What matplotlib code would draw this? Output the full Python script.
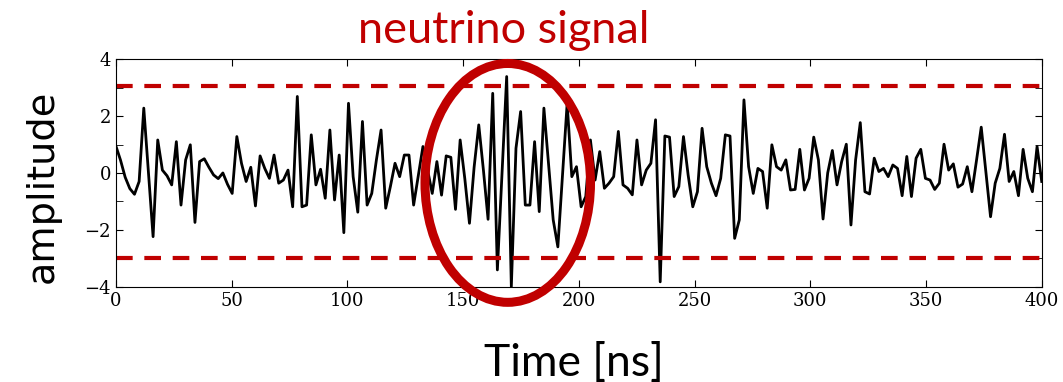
import numpy as np
import matplotlib
matplotlib.use("Agg")
import matplotlib.pyplot as plt
from matplotlib.patches import Ellipse
from matplotlib.ticker import MultipleLocator

# amplitude samples (one every ~2 ns)
amplitude = [
    0.95, 0.45, -0.15, -0.55, -0.75, -0.3, 2.28, 0.0, -2.24, 1.16,
    0.1, -0.1, -0.42, 1.1, -1.13, 0.46, 0.99, -1.74, 0.4, 0.5,
    0.2, -0.07, -0.2, 0.0, -0.4, -0.72, 1.28, 0.34, -0.3, 0.2,
    -1.16, 0.6, 0.16, -0.19, 0.63, -0.36, -0.25, 0.1, -1.19, 2.69,
    -1.19, -1.13, 1.34, -0.42, 0.13, -0.89, 1.51, -0.95, 0.63, -2.1,
    2.45, -0.13, -1.38, 1.81, -1.13, -0.72, 0.46, 1.51, -1.24, -0.48,
    0.34, -0.13, 0.63, 0.63,
    -1.13, -0.1, 0.93, 0.1, -0.72, 0.4, -0.78, 0.6, 0.55, -1.28,
    1.16, -0.2, -1.77, 0.2, 1.69, 0.1, -1.63, 2.8, -3.41, 0.0,
    3.39, -4.0, 0.87, 2.16, -1.13, -1.13, 1.1, -1.36, 2.28, 0.3,
    -1.65, -2.6, -0.1,
    2.45, -0.13, 0.22, -1.19, -0.83, 1.16, -0.25, 0.75, -0.54, -0.36,
    -0.13, 1.46, -0.42, -0.54, -0.77, 1.16, -0.42, 0.1, 0.34, 1.87,
    -3.83, 1.3, 1.26, -0.83, -0.48, 1.28, -0.07, -1.19, -0.66, 1.57,
    0.22, -0.36, -0.8, -0.19, 1.34, 1.3, -2.3, -1.65, 2.57, 0.22,
    -0.72, 0.16, 0.05, -1.24, 0.99, 0.22, 0.1, 0.46, -0.6, -0.58,
    0.83, -0.6, -0.19, 1.26, 0.46, -1.62, 0.0, 0.79, -0.42, 0.4,
    1.01, -1.83, 0.46, 1.77, -0.66, -0.74, 0.52, 0.05, 0.16, -0.13,
    0.28, 0.16, -0.8, 0.58, -0.83, 0.52, 0.83, -0.19, -0.25, -0.58,
    -0.36, 1.01, 0.1, 0.32, -0.5, -0.39, 0.22, -0.66, 0.46, 1.61,
    0.05, -1.54, -0.36, 0.16, 1.36, -0.3, 0.05, -0.8, 0.83, -0.19,
    -0.66, 0.93, -0.3,
]
dt = 2.01  # ns per sample
time = np.arange(len(amplitude)) * dt

threshold_hi = 3.05
threshold_lo = -3.0
signal_center = (169.3, -0.35)
signal_size = (71.5, 8.4)

red = '#C00000'

fig = plt.figure(figsize=(10.63, 3.82), dpi=100)
ax = fig.add_axes([0.109, 0.2495, 0.871, 0.5955])

ax.plot(time, amplitude, color='black', linewidth=2)
ax.axhline(threshold_hi, color=red, linewidth=3, dashes=(4, 2.8))
ax.axhline(threshold_lo, color=red, linewidth=3, dashes=(4, 2.8))

ell = Ellipse(signal_center, signal_size[0], signal_size[1], fill=False,
              edgecolor=red, linewidth=6.5, clip_on=False, zorder=5)
ax.add_patch(ell)

ax.set_xlim(0, 400)
ax.set_ylim(-4, 4)
ax.xaxis.set_major_locator(MultipleLocator(50))
ax.yaxis.set_major_locator(MultipleLocator(2))
ax.yaxis.set_minor_locator(MultipleLocator(1))
ax.tick_params(which='both', direction='in', top=True, right=True, length=5)
for lab in ax.get_xticklabels() + ax.get_yticklabels():
    lab.set_fontfamily('DejaVu Serif')
    lab.set_fontsize(13)

fig.text(0.474, 0.887, 'neutrino signal', color=red, fontsize=32.5,
         family='Lato', ha='center', va='baseline')
fig.text(0.540, 0.016, 'Time [ns]', color='black', fontsize=32,
         family='Lato', ha='center', va='baseline')
fig.text(0.040, 0.512, 'amplitude', color='black', fontsize=27.5,
         family='DejaVu Sans', rotation=90, ha='center', va='center')

fig.savefig('out.png', dpi=100)
